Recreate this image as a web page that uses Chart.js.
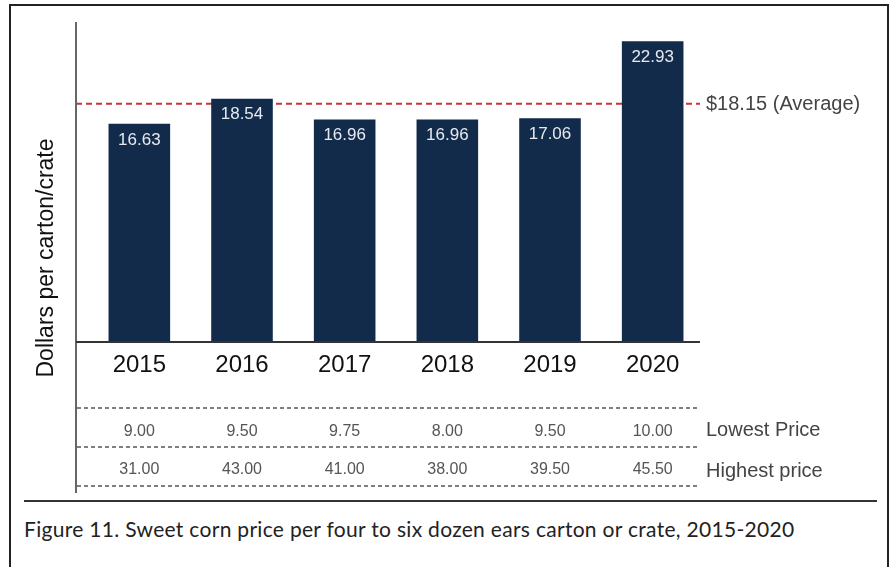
<!DOCTYPE html>
<html>
<head>
<meta charset="utf-8">
<script src="https://cdn.jsdelivr.net/npm/chart.js@4.4.1/dist/chart.umd.min.js"></script>
<style>
  body { margin: 0; background: #fff; width: 895px; height: 567px; overflow: hidden; position: relative; }
  #frame { position: absolute; left: 9px; top: 4px; width: 880px; height: 620px; border: 2px solid #222; box-sizing: border-box; }
  #wrap { position: absolute; left: 0; top: 0; width: 895px; height: 500px; }
  #rule { position: absolute; left: 24px; top: 500px; width: 853px; height: 0; border-top: 2px solid #333; }
  #caption { position: absolute; left: 24px; top: 516px; font-family: Lato, "Noto Sans", sans-serif; font-size: 21px; letter-spacing: 0.3px; color: #222; white-space: nowrap; }
</style>
</head>
<body>
<div id="frame"></div>
<div id="wrap"><canvas id="chartPrix" width="895" height="500"></canvas></div>
<div id="rule"></div>
<div id="caption">Figure 11. Sweet corn price per four to six dozen ears carton or crate, 2015-2020</div>
<script>
const annees = ['2015', '2016', '2017', '2018', '2019', '2020'];
const prixMoyens = [16.63, 18.54, 16.96, 16.96, 17.06, 22.93];
const prixBas = ['9.00', '9.50', '9.75', '8.00', '9.50', '10.00'];
const prixHauts = ['31.00', '43.00', '41.00', '38.00', '39.50', '45.50'];
const moyenne = 18.15;
const libelleMoyenne = '$18.15 (Average)';
const libellesLignes = ['Lowest Price', 'Highest price'];
const titreAxeY = 'Dollars per carton/crate';

const police = '"Liberation Sans", Arial, sans-serif';

// tout ce qui n'est pas une barre : axes, moyenne, tableau du bas
const decor = {
  id: 'decor',
  beforeDatasetsDraw(chart) {
    const ctx = chart.ctx;
    const y = chart.scales.y;
    const gauche = chart.chartArea.left - 12;
    const droite = chart.chartArea.right - 4;
    const yMoy = y.getPixelForValue(moyenne);

    ctx.save();
    ctx.strokeStyle = '#cc3333';
    ctx.lineWidth = 2;
    ctx.setLineDash([6, 4]);
    ctx.beginPath();
    ctx.moveTo(gauche, yMoy);
    ctx.lineTo(droite, yMoy);
    ctx.stroke();
    ctx.restore();
  },
  afterDatasetsDraw(chart) {
    const ctx = chart.ctx;
    const x = chart.scales.x;
    const y = chart.scales.y;
    const gauche = chart.chartArea.left - 12;
    const droite = chart.chartArea.right - 4;
    const y0 = y.getPixelForValue(0);
    const yMoy = y.getPixelForValue(moyenne);

    ctx.save();
    // axe vertical
    ctx.strokeStyle = '#666';
    ctx.lineWidth = 2;
    ctx.beginPath();
    ctx.moveTo(gauche, 22);
    ctx.lineTo(gauche, 493);
    ctx.stroke();
    // ligne de base
    ctx.strokeStyle = '#333';
    ctx.beginPath();
    ctx.moveTo(gauche, y0);
    ctx.lineTo(droite, y0);
    ctx.stroke();

    // valeurs dans les barres
    ctx.fillStyle = '#e6eaf0';
    ctx.font = '17px ' + police;
    ctx.textAlign = 'center';
    ctx.textBaseline = 'middle';
    chart.getDatasetMeta(0).data.forEach((bar, i) => {
      ctx.fillText(prixMoyens[i].toFixed(2), bar.x, bar.y + 16);
    });

    // années
    ctx.fillStyle = '#111';
    ctx.font = '24px ' + police;
    annees.forEach((a, i) => {
      ctx.fillText(a, x.getPixelForValue(i), y0 + 23);
    });

    // libellé de la moyenne
    ctx.fillStyle = '#444';
    ctx.font = '20px ' + police;
    ctx.textAlign = 'left';
    ctx.fillText(libelleMoyenne, droite + 6, yMoy + 1);

    // tableau bas / haut
    ctx.strokeStyle = '#555';
    ctx.lineWidth = 1.5;
    ctx.setLineDash([4, 3]);
    [408, 447, 486].forEach(ly => {
      ctx.beginPath();
      ctx.moveTo(gauche + 1, ly);
      ctx.lineTo(droite - 2, ly);
      ctx.stroke();
    });
    ctx.setLineDash([]);

    ctx.fillStyle = '#555';
    ctx.font = '16px ' + police;
    ctx.textAlign = 'center';
    prixBas.forEach((v, i) => ctx.fillText(v, x.getPixelForValue(i), 432));
    prixHauts.forEach((v, i) => ctx.fillText(v, x.getPixelForValue(i), 470));

    ctx.fillStyle = '#444';
    ctx.font = '20px ' + police;
    ctx.textAlign = 'left';
    ctx.fillText(libellesLignes[0], droite + 6, 430);
    ctx.fillText(libellesLignes[1], droite + 6, 471);

    // titre axe Y
    ctx.translate(47, 258);
    ctx.rotate(-Math.PI / 2);
    ctx.fillStyle = '#111';
    ctx.font = '23px ' + police;
    ctx.textAlign = 'center';
    ctx.fillText(titreAxeY, 0, 0);
    ctx.restore();
  }
};

const ctxPrix = document.getElementById('chartPrix').getContext('2d');
const chartPrix = new Chart(ctxPrix, {
  type: 'bar',
  data: {
    labels: annees,
    datasets: [{
      data: prixMoyens,
      backgroundColor: '#132b4b',
      borderWidth: 0,
      categoryPercentage: 1,
      barPercentage: 0.6
    }]
  },
  options: {
    responsive: false,
    animation: false,
    layout: { padding: { left: 88, right: 191, top: 14, bottom: 158 } },
    plugins: { legend: { display: false }, tooltip: { enabled: false } },
    scales: {
      x: { display: false },
      y: { display: false, min: 0, max: 25 }
    }
  },
  plugins: [decor]
});
</script>
</body>
</html>
